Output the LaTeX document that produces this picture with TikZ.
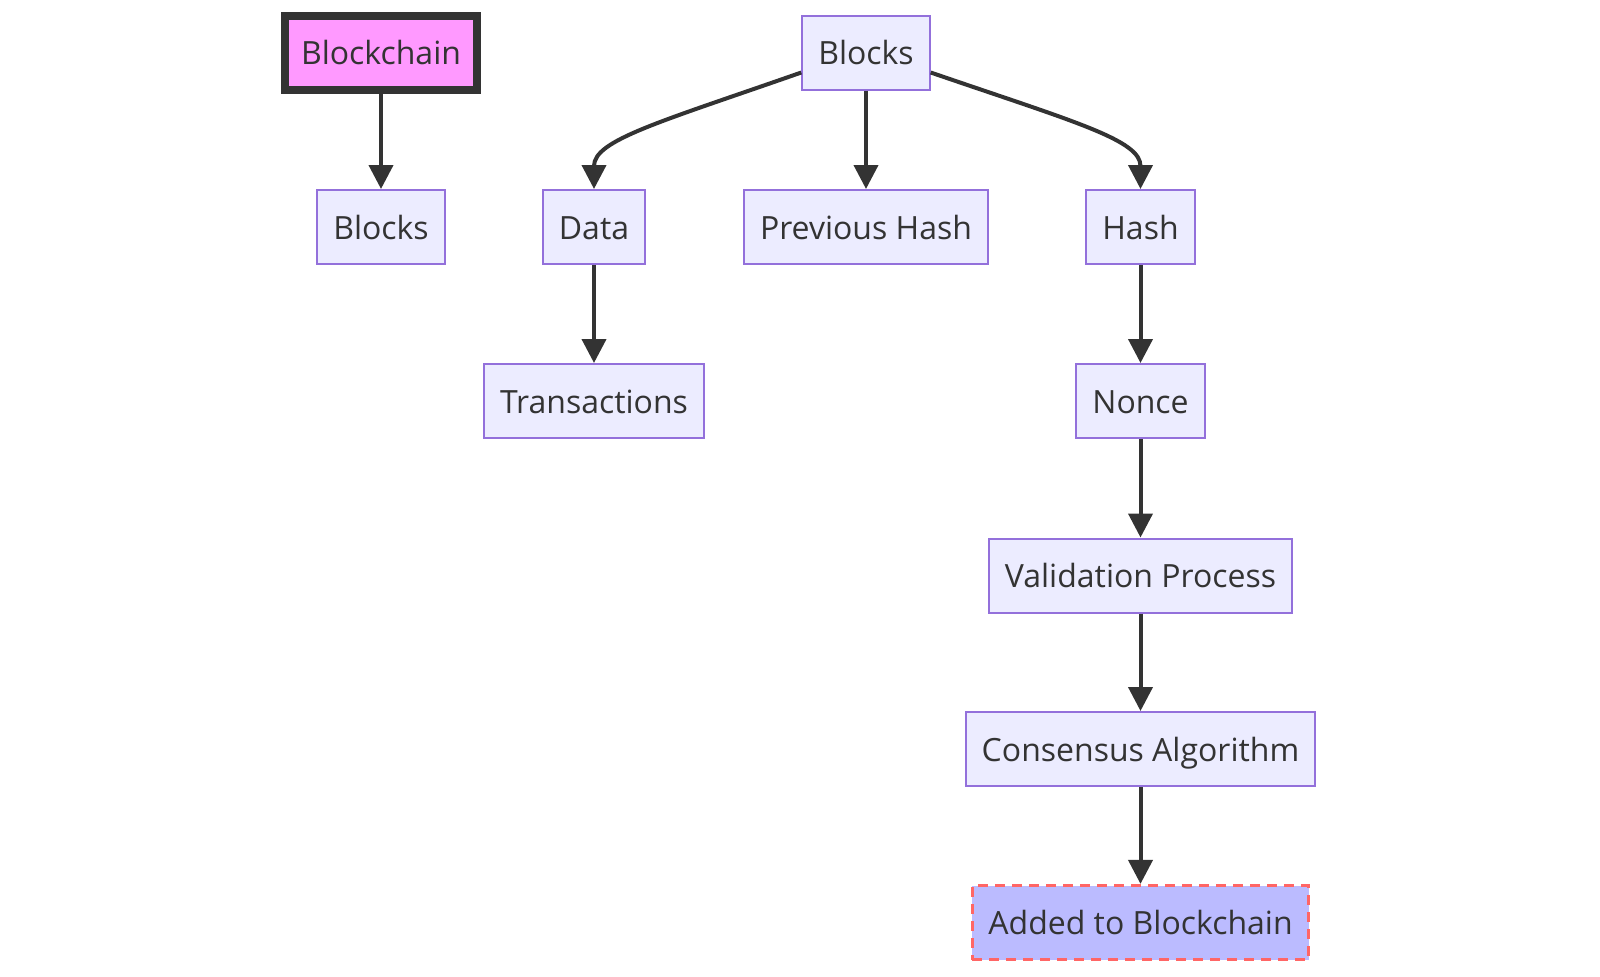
\documentclass[tikz,border=0pt]{standalone}
\usepackage{fontspec}
\setmainfont{Open Sans}
\usepackage{xcolor}
\usepackage{tikz}
\usetikzlibrary{arrows.meta}
\definecolor{mmtext}{RGB}{51, 51, 51}
\definecolor{mmborder}{RGB}{147, 112, 219}
\definecolor{mmfill}{RGB}{236, 236, 255}
\definecolor{mmpink}{RGB}{255, 153, 255}
\definecolor{mmlilac}{RGB}{187, 187, 255}
\definecolor{mmred}{RGB}{255, 102, 102}

\begin{document}
\begin{tikzpicture}[x=0.5pt, y=-0.5pt,
    box/.style={draw=mmborder, fill=mmfill, line width=1pt, text=mmtext,
        minimum height=37pt, inner xsep=8pt, inner ysep=0pt,
        text height=12pt, text depth=0pt,
        font=\fontsize{16pt}{19pt}\selectfont},
    rootbox/.style={box, draw=mmtext, fill=mmpink, line width=4pt},
    donebox/.style={box, draw=mmred, fill=mmlilac, line width=1.6pt,
        dash pattern=on 5pt off 3.5pt},
    link/.style={draw=mmtext, line width=2pt,
        -{Triangle[width=12pt, length=12pt]}}]
\useasboundingbox (0,0) rectangle (1600,976);
% Nodes
\node[rootbox] (chain) at (381,52.5) {Blockchain};
\node[box] (chainblocks) at (381,227) {Blocks};
\node[box] (blocks) at (866,52.5) {Blocks};
\node[box] (data) at (594,227) {Data};
\node[box] (prevhash) at (866,227) {Previous Hash};
\node[box] (hash) at (1140.5,227) {Hash};
\node[box] (trans) at (594,401) {Transactions};
\node[box] (nonce) at (1140.5,401) {Nonce};
\node[box] (valid) at (1140.5,575.5) {Validation Process};
\node[box] (consensus) at (1140.5,749) {Consensus Algorithm};
\node[donebox] (added) at (1140.5,922.5) {Added to Blockchain};

% Edges
\draw[link] (chain) -- (chainblocks);
\draw[link] ([yshift=-10pt]blocks.west) .. controls (660,122) and (594,140) .. (data.north);
\draw[link] (blocks) -- (prevhash);
\draw[link] ([yshift=-10pt]blocks.east) .. controls (1075,122) and (1140.5,140) .. (hash.north);
\draw[link] (data) -- (trans);
\draw[link] (hash) -- (nonce);
\draw[link] (nonce) -- (valid);
\draw[link] (valid) -- (consensus);
\draw[link] (consensus) -- (added);
\end{tikzpicture}
\end{document}
